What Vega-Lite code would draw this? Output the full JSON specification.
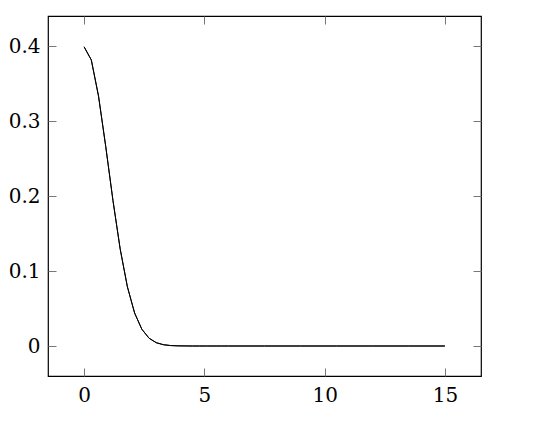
{
  "$schema": "https://vega.github.io/schema/vega-lite/v6.json",
  "width": 433,
  "height": 360,
  "autosize": "none",
  "padding": {"left": 48, "top": 16, "right": 69, "bottom": 53},
  "background": "white",
  "data": {
    "values": [
      {"x": 0, "y": 0.3989}, {"x": 0.3, "y": 0.3814}, {"x": 0.6, "y": 0.3332},
      {"x": 0.9, "y": 0.2661}, {"x": 1.2, "y": 0.1942}, {"x": 1.5, "y": 0.1295},
      {"x": 1.8, "y": 0.079}, {"x": 2.1, "y": 0.044}, {"x": 2.4, "y": 0.0224},
      {"x": 2.7, "y": 0.0104}, {"x": 3.0, "y": 0.0044}, {"x": 3.3, "y": 0.0017},
      {"x": 3.6, "y": 0.0006}, {"x": 3.9, "y": 0.0002}, {"x": 4.2, "y": 0.0001},
      {"x": 4.5, "y": 0}, {"x": 4.8, "y": 0}, {"x": 5.1, "y": 0}, {"x": 5.4, "y": 0},
      {"x": 5.7, "y": 0}, {"x": 6.0, "y": 0}, {"x": 7.5, "y": 0}, {"x": 9.0, "y": 0},
      {"x": 10.5, "y": 0}, {"x": 12.0, "y": 0}, {"x": 13.5, "y": 0}, {"x": 15, "y": 0}
    ]
  },
  "layer": [
    {
      "mark": {"type": "line", "color": "black", "strokeWidth": 1},
      "encoding": {
        "x": {
          "field": "x",
          "type": "quantitative",
          "scale": {"domain": [-1.5, 16.5], "nice": false, "zero": false},
          "axis": {"orient": "bottom", "values": [0, 5, 10, 15], "title": null, "labelPadding": 17}
        },
        "y": {
          "field": "y",
          "type": "quantitative",
          "scale": {"domain": [-0.04, 0.44], "nice": false, "zero": false},
          "axis": {"orient": "left", "values": [0, 0.1, 0.2, 0.3, 0.4], "format": ".1~f", "title": null, "labelPadding": 16}
        }
      }
    },
    {
      "mark": {"type": "line", "color": "black", "strokeWidth": 1},
      "encoding": {
        "x": {
          "field": "x",
          "type": "quantitative",
          "scale": {"domain": [-1.5, 16.5], "nice": false, "zero": false},
          "axis": {"orient": "top", "values": [0, 5, 10, 15], "title": null, "labels": false}
        },
        "y": {
          "field": "y",
          "type": "quantitative",
          "scale": {"domain": [-0.04, 0.44], "nice": false, "zero": false},
          "axis": {"orient": "right", "values": [0, 0.1, 0.2, 0.3, 0.4], "title": null, "labels": false}
        }
      }
    }
  ],
  "resolve": {"axis": {"x": "independent", "y": "independent"}},
  "config": {
    "view": {"stroke": "black", "strokeWidth": 1.2},
    "axis": {
      "grid": false,
      "domain": false,
      "tickSize": -8,
      "tickColor": "#777777",
      "tickWidth": 1,
      "labelFont": "DejaVu Serif",
      "labelFontSize": 20,
      "labelColor": "black"
    }
  }
}
